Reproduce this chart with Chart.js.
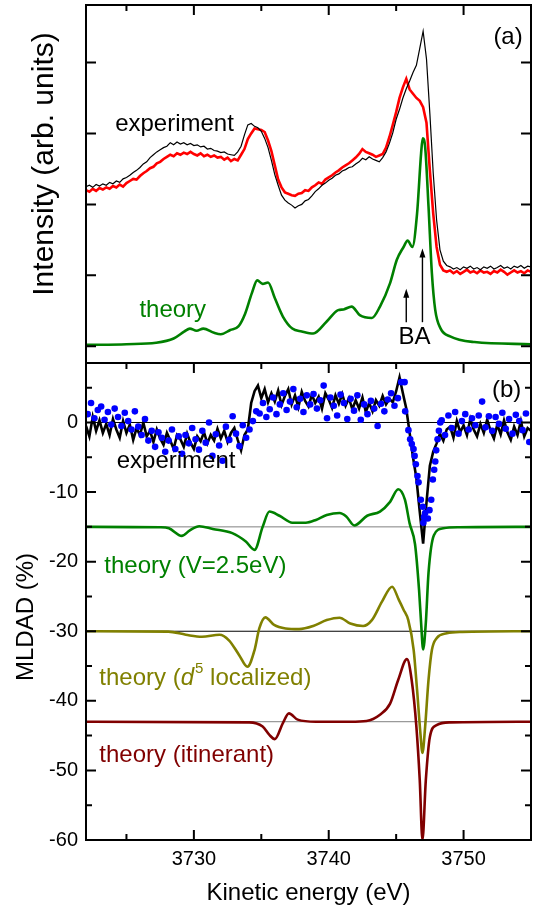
<!DOCTYPE html>
<html>
<head>
<meta charset="utf-8">
<script src="https://cdn.jsdelivr.net/npm/chart.js@4.4.1/dist/chart.umd.min.js"></script>
<style>
  html, body { margin:0; padding:0; background:#fff; }
  #wrap { position:relative; width:536px; height:905px; }
  canvas { position:absolute; left:0; }
  #panelA { top:0; }
  #panelB { top:358px; }
</style>
</head>
<body>
<div id="wrap">
  <canvas id="panelA" width="536" height="368"></canvas>
  <canvas id="panelB" width="536" height="547"></canvas>
</div>
<script>
const FONT = "'Liberation Sans', Arial, Helvetica, sans-serif"
const GREEN = '#008000', OLIVE = '#808000', DARKRED = '#800000'

const E_MIN = 3722, E_MAX = 3755
const xTickValues = [3730, 3740, 3750]
const yTickValues = [0, -10, -20, -30, -40, -50, -60]
// measured spectra are sampled on a regular energy grid (one row = 1 eV)
const EXP_START = 3722, EXP_STEP = 0.25

// (a) photoemission intensity, arb. units
const expA_black = [
  2.25, 2.27, 2.24, 2.28,  2.26, 2.29, 2.27, 2.31,  2.29, 2.33, 2.31, 2.36,
  2.38, 2.41, 2.45, 2.48,  2.52, 2.57, 2.60, 2.66,  2.70, 2.74, 2.77, 2.80,
  2.82, 2.87, 2.84, 2.88,  2.85, 2.87, 2.84, 2.86,  2.83, 2.84, 2.81, 2.82,
  2.78, 2.79, 2.76, 2.75,  2.73, 2.74, 2.71, 2.70,  2.69, 2.74, 2.82, 2.98,
  3.12, 3.14, 3.10, 3.08,  3.03, 2.93, 2.80, 2.62,  2.42, 2.27, 2.13, 2.06,
  2.02, 1.99, 1.95, 1.98,  2.00, 2.05, 2.07, 2.12,  2.18, 2.22, 2.27, 2.30,
  2.34, 2.37, 2.41, 2.43,  2.47, 2.49, 2.52, 2.53,  2.57, 2.60, 2.65, 2.63,
  2.67, 2.64, 2.62, 2.60,  2.66, 2.74, 2.86, 3.01,  3.20, 3.34, 3.50, 3.63,
  3.74, 3.86, 3.96, 4.20,  4.44, 4.05, 3.28, 2.44,  1.78, 1.36, 1.20, 1.14,
  1.12, 1.09, 1.11, 1.08,  1.12, 1.10, 1.13, 1.09,  1.11, 1.08, 1.12, 1.10,
  1.13, 1.09, 1.11, 1.14,  1.10, 1.12, 1.09, 1.13,  1.11, 1.14, 1.10, 1.13,
  1.12
]
const expA_red = [
  2.20, 2.18, 2.22, 2.19,  2.23, 2.21, 2.24, 2.22,  2.26, 2.24, 2.28, 2.25,
  2.30, 2.33, 2.36, 2.35,  2.40, 2.44, 2.47, 2.51,  2.53, 2.58, 2.60, 2.64,
  2.67, 2.70, 2.68, 2.72,  2.70, 2.73, 2.71, 2.74,  2.71, 2.69, 2.72, 2.68,
  2.70, 2.67, 2.69, 2.66,  2.67, 2.63, 2.66, 2.61,  2.64, 2.62, 2.70, 2.78,
  2.92, 3.00, 3.07, 3.06,  3.05, 3.02, 2.90, 2.75,  2.55, 2.35, 2.24, 2.17,
  2.15, 2.13, 2.12, 2.15,  2.16, 2.20, 2.19, 2.24,  2.27, 2.31, 2.29, 2.35,
  2.38, 2.41, 2.45, 2.48,  2.52, 2.55, 2.58, 2.62,  2.66, 2.71, 2.78, 2.74,
  2.72, 2.70, 2.67, 2.69,  2.71, 2.80, 2.95, 3.12,  3.30, 3.50, 3.65, 3.77,
  3.62, 3.56, 3.50, 3.46,  3.37, 3.15, 2.48, 1.87,  1.40, 1.15, 1.07, 1.05,
  1.07, 1.03, 1.06, 1.02,  1.05, 1.08, 1.04, 1.06,  1.03, 1.07, 1.04, 1.05,
  1.02, 1.06, 1.04, 1.08,  1.05, 1.01, 1.04, 1.07,  1.04, 1.06, 1.03, 1.07,
  1.05
]
const theoA_E = [3722, 3725, 3727.2, 3728.5, 3729.3, 3729.7, 3730.2, 3730.7, 3731.5, 3732.0,
  3732.7, 3733.3, 3733.8, 3734.3, 3734.7, 3735.1, 3735.5, 3736.0, 3736.6, 3737.3,
  3738.0, 3738.85, 3739.85, 3740.7, 3741.1, 3741.7, 3742.3, 3743.2, 3743.8, 3744.55,
  3745.05, 3745.55, 3745.85, 3746.2, 3746.55, 3746.85, 3746.97, 3747.15, 3747.4, 3747.65,
  3747.9, 3748.3, 3749.0, 3750.8, 3755]
const theoA_I = [0.02, 0.03, 0.05, 0.11, 0.21, 0.25, 0.22, 0.25, 0.19, 0.17,
  0.23, 0.28, 0.46, 0.75, 0.93, 0.88, 0.90, 0.68, 0.42, 0.25,
  0.21, 0.18, 0.35, 0.51, 0.52, 0.56, 0.44, 0.40, 0.56, 0.89,
  1.22, 1.40, 1.49, 1.40, 1.87, 2.72, 2.93, 2.81, 1.97, 1.03,
  0.51, 0.25, 0.14, 0.06, 0.03]
const arrowE    = [3745.75, 3746.95]   // B, A
const arrowFrom = [0.34, 0.34]
const arrowTo   = [0.81, 1.38]

// (b) MLDAD, %
const expB_black = [
  -0.5, -2.0, 0.8, -1.2,   0.3, -1.5, -0.2, -1.8,   0.5, -1.0, -2.2, 0.2,
  -1.5, -0.3, -2.5, -0.8,  -1.8, 0.0, -2.0, -1.2,   -2.8, -1.0, -2.3, -3.2,
  -1.5, -2.6, -3.8, -1.8,  -2.4, -3.5, -1.6, -2.9,  -3.8, -2.0, -2.7, -1.4,
  -3.0, -1.8, -2.6, -0.9,  -2.3, -1.2, -2.8, -1.5,  -0.8, -2.5, -4.0, -1.8,
  -1.0, 2.8, 4.5, 5.3,     3.5, 4.8, 2.9, 4.2,      3.0, 4.6, 2.5, 3.8,
  4.8, 2.6, 3.9, 2.2,      4.4, 3.1, 2.3, 4.0,      2.8, 3.7, 2.0, 4.2,
  3.3, 2.1, 3.9, 2.7,      4.1, 2.4, 3.5, 1.9,      3.2, 2.0, 3.6, 1.5,
  2.8, 1.6, 3.2, 2.4,      3.8, 2.6, 3.4, 2.9,      4.5, 6.5, 4.2, 2.0,
  -1.5, -5.0, -8.0, -12.8, -17.4, -11.5, -6.2, -4.2, -3.0, -1.6, -2.6, -1.0,
  -0.6, -2.2, 0.2, -1.4,   -0.4, -1.8, 0.5, -1.0,   -2.0, -0.2, -1.5, 0.4,
  -1.2, -2.3, -0.3, -1.7,  0.3, -1.4, -2.5, -0.6,   -1.8, 0.2, -2.0, -0.8,
  -1.2
]
const DOT_START = 3722.125
const expB_dots = [
  1.2, 2.8, 0.6, 1.8,     2.3, 0.4, 1.5, -0.3,    2.0, 0.8, -0.5, 1.4,
  0.2, -1.0, 1.6, -0.6,   -1.8, 0.5, -2.6, -1.2,  -3.5, -1.4, -2.2, -4.2,
  -2.6, -1.0, -3.8, -2.0, -4.5, -1.8, -3.0, -0.8, -2.4, -3.9, -1.2, -2.9,
  0.0, -4.8, -1.7, -3.3,  -5.5, -0.6, -2.5, 0.9,  -1.6, -3.4, -0.4, -2.2,
  -1.0, 0.2, 1.6, 1.3,    2.8, 0.8, 1.9, 3.6,     1.2, 2.6, 4.2, 1.8,
  3.0, 4.8, 2.2, 3.4,     1.5, 3.9, 2.6, 4.1,     2.0, 3.2, 5.3, 0.6,
  3.6, 2.4, 1.0, 4.0,     2.8, 0.5, 3.4, 1.7,     3.9, 0.4, 2.6, 1.2,
  3.1, 2.0, -0.5, 2.7,    1.6, 3.3, 4.2, 2.4,     3.5, 5.8, 5.8, null,
  null, null, null, null, null, null, null, null, null, 0.3, -1.8, 1.0,
  -0.8, 1.5, -1.6, 0.2,   1.2, -1.0, 0.6, -0.4,   1.0, 3.0, -0.7, 0.9,
  -1.2, 0.8, -0.2, 1.4,   -0.9, 0.5, -1.6, 1.1,   0.2, -1.1, 1.3, -2.8
]
const dipDots_E = [3745.67, 3745.91, 3746.04, 3746.16, 3746.29, 3746.37, 3746.46, 3746.58,
  3746.66, 3746.83, 3746.98, 3747.02, 3747.07, 3747.15, 3747.35, 3747.47, 3747.6, 3747.72,
  3747.82, 3747.9, 3747.97, 3748.07, 3748.17, 3748.27]
const dipDots_V = [1.6, -1.1, -2.4, -3.1, -3.8, -4.8, -6.0, -7.7,
  -8.6, -11.1, -12.1, -14.4, -13.6, -13.0, -13.8, -12.6, -11.1, -8.2,
  -6.8, -5.6, -4.0, -2.4, -1.2, 0.0]

const thV_E = [3722, 3727.5, 3728.15, 3729.1, 3729.7, 3730.4, 3731.4, 3732.85, 3733.85, 3734.5,
  3735.1, 3735.6, 3736.35, 3737.3, 3738.3, 3739.05, 3739.85, 3740.8, 3741.3, 3741.9,
  3742.85, 3743.8, 3744.55, 3745.15, 3745.65, 3746.0, 3746.4, 3746.7, 3746.85, 3747.0,
  3747.2, 3747.4, 3747.8, 3748.5, 3749.7, 3755]
const thV_V = [-15, -15.06, -15.2, -16.3, -15.5, -14.9, -15.3, -15.9, -17.1, -18.3,
  -15.0, -12.8, -13.4, -14.4, -14.4, -14.0, -13.3, -13.0, -13.5, -14.8,
  -13.4, -12.8, -11.4, -9.6, -11.1, -14.5, -17.5, -24.1, -28.8, -32.6,
  -28.8, -21.6, -16.2, -15.2, -15.05, -15]

const thLoc_E = [3722, 3728.1, 3729.4, 3730.6, 3731.9, 3732.6, 3733.35, 3733.97, 3734.5, 3734.85,
  3735.3, 3735.95, 3736.8, 3737.8, 3738.85, 3739.85, 3740.8, 3741.6, 3742.55, 3743.2,
  3743.95, 3744.7, 3745.2, 3745.55, 3745.9, 3746.3, 3746.55, 3746.8, 3746.95, 3747.15,
  3747.4, 3747.65, 3748.0, 3748.75, 3749.9, 3755]
const thLoc_V = [-30, -30.05, -30.5, -30.8, -30.5, -31.3, -33.4, -35.1, -32.7, -29.6,
  -28.0, -29.1, -29.6, -29.7, -29.25, -28.4, -28.05, -28.9, -29.25, -28.4,
  -25.75, -23.6, -25.5, -26.9, -28.4, -32.7, -38.4, -44.7, -47.5, -43.7,
  -37.0, -32.7, -31.0, -30.3, -30.1, -30]

const thItin_E = [3722, 3734.1, 3735.1, 3735.6, 3736.0, 3736.6, 3737.05, 3737.7, 3739.05, 3741.6,
  3742.8, 3743.8, 3744.55, 3745.15, 3745.8, 3746.15, 3746.5, 3746.75, 3746.95, 3747.2,
  3747.5, 3748.0, 3749.0, 3755]
const thItin_V = [-43, -43.1, -43.7, -44.9, -45.5, -43.2, -41.8, -42.7, -43.0, -43.0,
  -42.9, -42.0, -40.4, -37.0, -34.0, -37.0, -43.7, -51.4, -60, -51.4,
  -45.2, -43.5, -43.1, -43]

const baseLevels = [0, -15, -30, -43]
const baseColors = ['#000000', '#808080', '#000000', '#808080']

const gridPoints = (vals, start, step) => vals.map((v, i) => ({ x: start + i * step, y: v }))
const pairPoints = (xs, ys) => xs.map((x, i) => ({ x, y: ys[i] }))

// box frame with inward ticks on every side
const frameTicks = {
  id: 'frameTicks',
  afterDatasetsDraw(chart, args, o) {
    const { ctx, chartArea: a } = chart
    const xs = chart.scales.x, ys = chart.scales.y
    ctx.save()
    ctx.strokeStyle = '#000'
    ctx.lineWidth = 2
    ctx.beginPath()
    for (let v = Math.ceil(xs.min / o.xMinor) * o.xMinor; v <= xs.max; v += o.xMinor) {
      const p = xs.getPixelForValue(v)
      if (p < a.left + 2 || p > a.right - 2) continue
      const len = v % o.xMajor === 0 ? o.major : o.minor
      if (o.top)    { ctx.moveTo(p, a.top);    ctx.lineTo(p, a.top + len) }
      if (o.bottom) { ctx.moveTo(p, a.bottom); ctx.lineTo(p, a.bottom - len) }
    }
    for (let v = Math.ceil(ys.min / o.yMinor) * o.yMinor; v <= ys.max; v += o.yMinor) {
      const p = ys.getPixelForValue(v)
      if (p < a.top + 2 || p > a.bottom - 2) continue
      const len = v % o.yMajor === 0 ? o.major : o.minor
      ctx.moveTo(a.left, p);  ctx.lineTo(a.left + len, p)
      ctx.moveTo(a.right, p); ctx.lineTo(a.right - len, p)
    }
    ctx.stroke()
    ctx.strokeRect(a.left, a.top, a.right - a.left, a.bottom - a.top)
    ctx.restore()
  }
}

// curve labels (data coordinates) and the rotated y title
const textLabels = {
  id: 'textLabels',
  afterDatasetsDraw(chart, args, o) {
    const { ctx } = chart
    const xs = chart.scales.x, ys = chart.scales.y
    ctx.save()
    ctx.textBaseline = 'middle'
    ctx.textAlign = 'left'
    for (const lab of o.items) {
      let px = xs.getPixelForValue(lab.x)
      const py = ys.getPixelForValue(lab.y)
      ctx.fillStyle = lab.color
      for (const s of lab.segs) {
        ctx.font = (s.italic ? 'italic ' : '') + (s.sup ? 15 : 24) + 'px ' + FONT
        ctx.fillText(s.t, px, s.sup ? py - 9 : py)
        px += ctx.measureText(s.t).width + (s.italic ? 1 : 0)
      }
    }
    if (o.title) {
      ctx.font = o.title.size + 'px ' + FONT
      ctx.textAlign = 'center'
      ctx.fillStyle = '#000'
      ctx.translate(o.title.cx, o.title.cy)
      ctx.rotate(-Math.PI / 2)
      ctx.fillText(o.title.text, 0, 0)
    }
    ctx.restore()
  }
}

const arrows = {
  id: 'arrows',
  afterDatasetsDraw(chart, args, o) {
    const { ctx } = chart
    const xs = chart.scales.x, ys = chart.scales.y
    ctx.save()
    ctx.strokeStyle = '#000'
    ctx.fillStyle = '#000'
    ctx.lineWidth = 1.4
    o.x.forEach((e, i) => {
      const px = xs.getPixelForValue(e)
      const y0 = ys.getPixelForValue(o.from[i]), y1 = ys.getPixelForValue(o.to[i])
      ctx.beginPath(); ctx.moveTo(px, y0); ctx.lineTo(px, y1 + 6); ctx.stroke()
      ctx.beginPath(); ctx.moveTo(px, y1); ctx.lineTo(px - 3, y1 + 9); ctx.lineTo(px + 3, y1 + 9)
      ctx.closePath(); ctx.fill()
    })
    ctx.restore()
  }
}

const line = (data, color, width, smooth) => ({
  data, showLine: true, borderColor: color, backgroundColor: color, borderWidth: width,
  pointRadius: 0, cubicInterpolationMode: smooth ? 'monotone' : 'default', tension: 0
})

Chart.defaults.font.family = FONT

new Chart(document.getElementById('panelA'), {
  type: 'scatter',
  data: { datasets: [
    line(gridPoints(expA_black, EXP_START, EXP_STEP), '#000000', 1.2, false),
    line(gridPoints(expA_red, EXP_START, EXP_STEP), '#ff0000', 2.6, false),
    line(pairPoints(theoA_E, theoA_I), GREEN, 2.6, true),
  ]},
  options: {
    responsive: false, animation: false, events: [],
    layout: { padding: { left: 86, right: 5, top: 5, bottom: 5 } },
    scales: {
      x: { type: 'linear', min: E_MIN, max: E_MAX, display: false },
      y: { type: 'linear', min: -0.235, max: 4.81, display: false }
    },
    plugins: {
      legend: { display: false }, tooltip: { enabled: false },
      frameTicks: { xMinor: 5, xMajor: 10, yMinor: 1, yMajor: 1, major: 10, minor: 6, top: true, bottom: false },
      textLabels: {
        items: [
          { segs: [{ t: 'experiment' }], x: 3724.16, y: 3.13, color: '#000' },
          { segs: [{ t: 'theory' }], x: 3725.96, y: 0.51, color: GREEN },
          { segs: [{ t: '(a)' }], x: 3752.21, y: 4.35, color: '#000' },
          { segs: [{ t: 'BA' }], x: 3745.17, y: 0.13, color: '#000' }
        ],
        title: { text: 'Intensity (arb. units)', size: 30, cx: 45, cy: 164 }
      },
      arrows: { x: arrowE, from: arrowFrom, to: arrowTo }
    }
  },
  plugins: [frameTicks, textLabels, arrows]
})

const baseSets = baseLevels.map((lvl, i) =>
  line([{ x: E_MIN, y: lvl }, { x: E_MAX, y: lvl }], baseColors[i], 1, false))

new Chart(document.getElementById('panelB'), {
  type: 'scatter',
  data: { datasets: [
    { data: gridPoints(expB_dots, DOT_START, EXP_STEP), pointRadius: 3.3, pointBackgroundColor: '#0000ff', pointBorderWidth: 0 },
    { data: pairPoints(dipDots_E, dipDots_V), pointRadius: 3.3, pointBackgroundColor: '#0000ff', pointBorderWidth: 0 },
    line(gridPoints(expB_black, EXP_START, EXP_STEP), '#000000', 2.6, false),
    line(pairPoints(thV_E, thV_V), GREEN, 2.6, true),
    line(pairPoints(thLoc_E, thLoc_V), OLIVE, 2.6, true),
    line(pairPoints(thItin_E, thItin_V), DARKRED, 2.6, true),
    ...baseSets
  ]},
  options: {
    responsive: false, animation: false, events: [],
    layout: { padding: { left: 0, right: 5, top: 5, bottom: 0 } },
    scales: {
      x: {
        type: 'linear', min: E_MIN, max: E_MAX,
        grid: { display: false, drawTicks: false }, border: { display: false },
        ticks: { color: '#000', font: { size: 20 }, padding: 7, maxRotation: 0, autoSkip: false,
                 callback: v => String(v) },
        afterBuildTicks: s => { s.ticks = xTickValues.map(v => ({ value: v })) },
        title: { display: true, text: 'Kinetic energy (eV)', color: '#000',
                 font: { size: 24, lineHeight: 1.0 }, padding: { top: 0, bottom: 0 } },
        afterFit: s => { s.height = 65; s.paddingLeft = 0; s.paddingRight = 0 }
      },
      y: {
        type: 'linear', min: -60, max: 8.55,
        grid: { display: false, drawTicks: false }, border: { display: false },
        ticks: { color: '#000', font: { size: 20 }, padding: 8, callback: v => String(v) },
        afterBuildTicks: s => { s.ticks = yTickValues.map(v => ({ value: v })) },
        afterFit: s => { s.width = 86; s.paddingTop = 0; s.paddingBottom = 0 }
      }
    },
    plugins: {
      legend: { display: false }, tooltip: { enabled: false },
      frameTicks: { xMinor: 5, xMajor: 10, yMinor: 5, yMajor: 10, major: 10, minor: 6, top: true, bottom: true },
      textLabels: {
        items: [
          { segs: [{ t: 'experiment' }], x: 3724.28, y: -5.63, color: '#000' },
          { segs: [{ t: 'theory (V=2.5eV)' }], x: 3723.36, y: -20.72, color: GREEN },
          { segs: [{ t: 'theory (' }, { t: 'd', italic: true }, { t: '5', sup: true }, { t: ' localized)' }],
            x: 3722.99, y: -36.76, color: OLIVE },
          { segs: [{ t: 'theory (itinerant)' }], x: 3722.99, y: -47.89, color: DARKRED },
          { segs: [{ t: '(b)' }], x: 3752.11, y: 4.67, color: '#000' }
        ],
        title: { text: 'MLDAD (%)', size: 24, cx: 26, cy: 259 }
      }
    }
  },
  plugins: [frameTicks, textLabels]
})
</script>
</body>
</html>
